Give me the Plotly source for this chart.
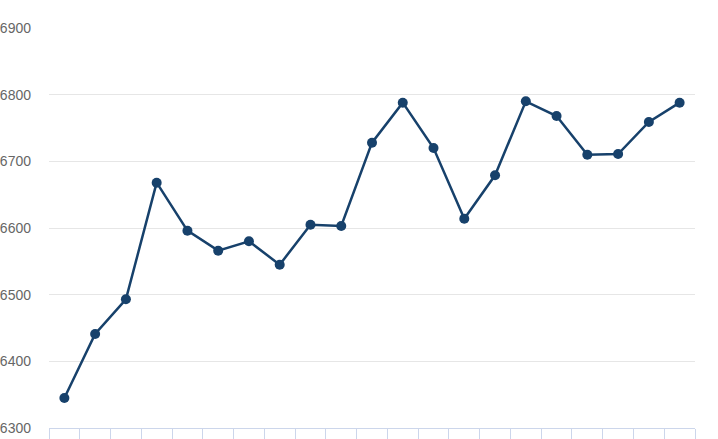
import plotly.graph_objects as go

categories = [str(i) for i in range(1, 22)]
values = [6345, 6441, 6493, 6668, 6596, 6566, 6580, 6545, 6605, 6603, 6728,
          6788, 6720, 6614, 6679, 6790, 6768, 6710, 6711, 6759, 6788]
y_ticks = [6300, 6400, 6500, 6600, 6700, 6800, 6900]

fig = go.Figure(go.Scatter(
    x=categories, y=values, mode="lines+markers",
    line=dict(color="#17416b", width=2.5),
    marker=dict(color="#17416b", size=10),
    hoverinfo="y",
))

fig.update_layout(
    width=718, height=439,
    margin=dict(l=49, r=23, t=28, b=11),
    paper_bgcolor="white", plot_bgcolor="white",
    showlegend=False,
    font=dict(family="Liberation Sans, Arial, sans-serif", size=14, color="#666666"),
)
fig.update_xaxes(
    type="category", showticklabels=False, showgrid=False,
    ticks="outside", tickson="boundaries", ticklen=11, tickcolor="#ccd6eb", tickwidth=1,
    showline=True, linecolor="#ccd6eb", linewidth=1,
    range=[-0.5, 20.5], zeroline=False, automargin=False,
)
fig.update_yaxes(
    range=[6300, 6900], tickvals=y_ticks, ticktext=[str(v) for v in y_ticks],
    showgrid=True, gridcolor="#e6e6e6", gridwidth=1, zeroline=False,
    automargin=False, ticklabelstandoff=17, showline=False,
)

fig.write_html(
    "out.html",
    config={"displayModeBar": False},
    post_script="document.body.style.margin='0';document.body.style.overflow='hidden';",
)
